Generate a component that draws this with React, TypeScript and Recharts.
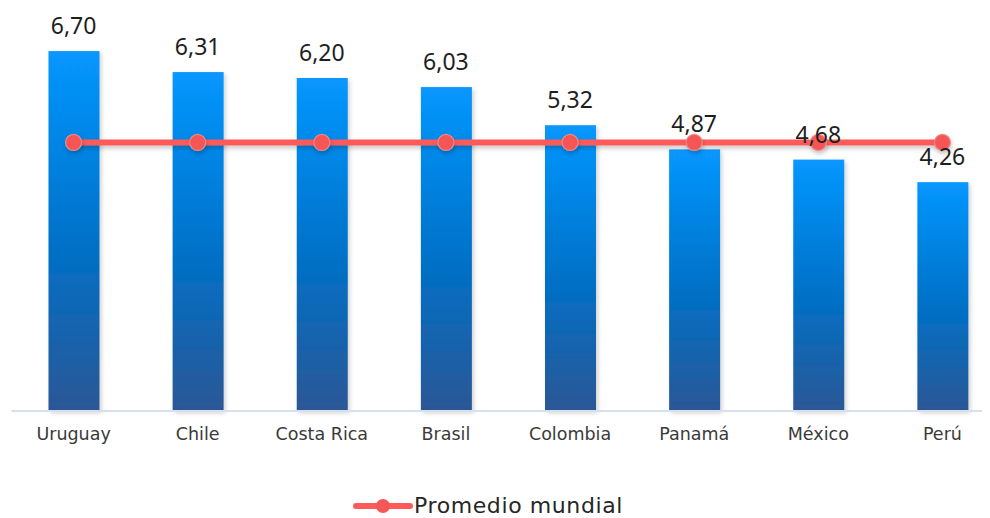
import { ComposedChart, Bar, Line, XAxis, YAxis, LabelList } from 'recharts';

const paises = ['Uruguay', 'Chile', 'Costa Rica', 'Brasil', 'Colombia', 'Panamá', 'México', 'Perú'];
const valores = [6.7, 6.31, 6.2, 6.03, 5.32, 4.87, 4.68, 4.26];
const promedioMundial = [5.0, 5.0, 5.0, 5.0, 5.0, 5.0, 5.0, 5.0];

const data = paises.map((pais, i) => ({
  pais,
  valor: valores[i],
  promedio: promedioMundial[i],
}));

function formatValor(v: number): string {
  return v.toFixed(2).replace('.', ',');
}

interface BarShapeProps {
  x?: number;
  y?: number;
  width?: number;
  height?: number;
}

function ShadowBar({ x = 0, y = 0, width = 0, height = 0 }: BarShapeProps) {
  return (
    <rect
      x={x}
      y={y}
      width={width}
      height={height}
      fill="url(#barGradient)"
      filter="url(#barShadow)"
    />
  );
}

function Leyenda() {
  return (
    <div
      style={{
        position: 'absolute',
        left: 345,
        top: 486,
        display: 'flex',
        alignItems: 'center',
        fontFamily: '"DejaVu Sans", sans-serif',
        fontSize: 22,
        letterSpacing: 0.6,
        color: '#262626',
        lineHeight: '24px',
      }}
    >
      <svg width={60} height={20}>
        <line x1={3} y1={10} x2={57} y2={10} stroke="#ff5a5a" strokeWidth={6} strokeLinecap="round" />
        <circle cx={30} cy={10} r={7} fill="#f55656" />
      </svg>
      <span style={{ marginLeft: 1 }}>Promedio mundial</span>
    </div>
  );
}

export default function App() {
  return (
    <div style={{ position: 'relative', width: 982, height: 510, overflow: 'hidden' }}>
      <ComposedChart
        width={1000}
        height={510}
        data={data}
        margin={{ top: 27, right: 3.5, left: 3.5, bottom: 0 }}
      >
        <defs>
          <linearGradient id="barGradient" x1="0" y1="0" x2="0" y2="1">
            <stop offset="0%" stopColor="#0797ff" />
            <stop offset="55%" stopColor="#0070c6" />
            <stop offset="100%" stopColor="#2b5796" />
          </linearGradient>
          <filter id="barShadow" x="-20%" y="-5%" width="140%" height="110%">
            <feDropShadow dx={2} dy={2} stdDeviation={2} floodColor="#000" floodOpacity={0.18} />
          </filter>
          <filter id="lineShadow" filterUnits="userSpaceOnUse" x={0} y={0} width={1000} height={510}>
            <feDropShadow dx={1} dy={3} stdDeviation={2} floodColor="#000" floodOpacity={0.2} />
          </filter>
        </defs>
        <XAxis
          dataKey="pais"
          height={107}
          tickSize={0}
          tickMargin={17}
          axisLine={{ stroke: '#d5e1ef', strokeWidth: 2 }}
          tickLine={false}
          tick={{ fontSize: 17.5, fill: '#3a3a3a', fontFamily: '"DejaVu Sans", sans-serif' }}
          interval={0}
        />
        <YAxis hide domain={[0, 7]} />
        <Bar dataKey="valor" barSize={51} shape={<ShadowBar />} isAnimationActive={false} />
        <Line
          dataKey="promedio"
          stroke="#ff5a5a"
          strokeWidth={6}
          filter="url(#lineShadow)"
          dot={{ r: 8, fill: '#f55454', stroke: '#ec8a8a', strokeWidth: 1.2 }}
          activeDot={false}
          isAnimationActive={false}
        />
        <Line
          dataKey="valor"
          stroke="none"
          dot={false}
          activeDot={false}
          isAnimationActive={false}
        >
          <LabelList
            dataKey="valor"
            position="top"
            offset={17}
            formatter={(v: number) => formatValor(v)}
            style={{ fontSize: 23, fill: '#1e1e1e', fontFamily: '"Noto Sans", sans-serif' }}
          />
        </Line>
      </ComposedChart>
      <Leyenda />
    </div>
  );
}
